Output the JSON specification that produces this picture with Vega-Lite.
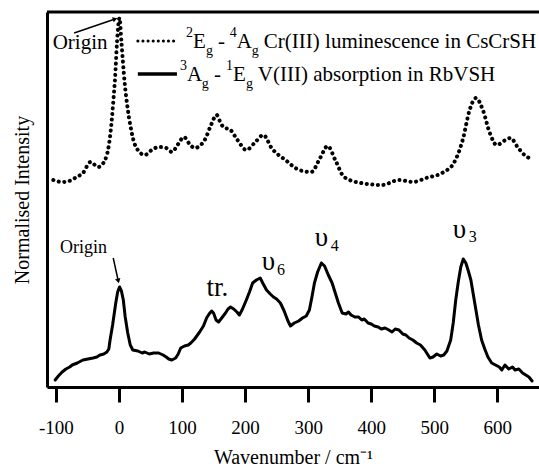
{
  "$schema": "https://vega.github.io/schema/vega-lite/v6.json",
  "width": 492,
  "height": 375,
  "autosize": {"type": "none"},
  "padding": {"left": 47, "top": 12, "right": 0, "bottom": 81},
  "background": "white",
  "config": {
    "view": {"stroke": null},
    "font": "Liberation Serif",
    "text": {"font": "Liberation Serif", "color": "black"}
  },
  "datasets": {
    "spectra": [
      {"wn": -104, "intensity": 207, "series": "lum"},
      {"wn": -90, "intensity": 205, "series": "lum"},
      {"wn": -79, "intensity": 206, "series": "lum"},
      {"wn": -67, "intensity": 210, "series": "lum"},
      {"wn": -57, "intensity": 214, "series": "lum"},
      {"wn": -45, "intensity": 225, "series": "lum"},
      {"wn": -33, "intensity": 220, "series": "lum"},
      {"wn": -22, "intensity": 227, "series": "lum"},
      {"wn": -17, "intensity": 238, "series": "lum"},
      {"wn": -13, "intensity": 256, "series": "lum"},
      {"wn": -9, "intensity": 285, "series": "lum"},
      {"wn": -6, "intensity": 310, "series": "lum"},
      {"wn": -3, "intensity": 345, "series": "lum"},
      {"wn": 1, "intensity": 369, "series": "lum"},
      {"wn": 4, "intensity": 345, "series": "lum"},
      {"wn": 9, "intensity": 305, "series": "lum"},
      {"wn": 14, "intensity": 278, "series": "lum"},
      {"wn": 18, "intensity": 262, "series": "lum"},
      {"wn": 27, "intensity": 240, "series": "lum"},
      {"wn": 41, "intensity": 232, "series": "lum"},
      {"wn": 52, "intensity": 237, "series": "lum"},
      {"wn": 63, "intensity": 240, "series": "lum"},
      {"wn": 75, "intensity": 239, "series": "lum"},
      {"wn": 84, "intensity": 235, "series": "lum"},
      {"wn": 94, "intensity": 243, "series": "lum"},
      {"wn": 103, "intensity": 250, "series": "lum"},
      {"wn": 112, "intensity": 243, "series": "lum"},
      {"wn": 120, "intensity": 239, "series": "lum"},
      {"wn": 136, "intensity": 247, "series": "lum"},
      {"wn": 146, "intensity": 262, "series": "lum"},
      {"wn": 155, "intensity": 272, "series": "lum"},
      {"wn": 162, "intensity": 263, "series": "lum"},
      {"wn": 168, "intensity": 259, "series": "lum"},
      {"wn": 175, "intensity": 258, "series": "lum"},
      {"wn": 188, "intensity": 247, "series": "lum"},
      {"wn": 202, "intensity": 237, "series": "lum"},
      {"wn": 215, "intensity": 244, "series": "lum"},
      {"wn": 229, "intensity": 252, "series": "lum"},
      {"wn": 242, "intensity": 239, "series": "lum"},
      {"wn": 264, "intensity": 227, "series": "lum"},
      {"wn": 286, "intensity": 217, "series": "lum"},
      {"wn": 305, "intensity": 215, "series": "lum"},
      {"wn": 319, "intensity": 229, "series": "lum"},
      {"wn": 331, "intensity": 241, "series": "lum"},
      {"wn": 343, "intensity": 227, "series": "lum"},
      {"wn": 357, "intensity": 210, "series": "lum"},
      {"wn": 384, "intensity": 204, "series": "lum"},
      {"wn": 417, "intensity": 202, "series": "lum"},
      {"wn": 444, "intensity": 207, "series": "lum"},
      {"wn": 466, "intensity": 205, "series": "lum"},
      {"wn": 487, "intensity": 209, "series": "lum"},
      {"wn": 515, "intensity": 215, "series": "lum"},
      {"wn": 531, "intensity": 224, "series": "lum"},
      {"wn": 545, "intensity": 247, "series": "lum"},
      {"wn": 556, "intensity": 277, "series": "lum"},
      {"wn": 566, "intensity": 289, "series": "lum"},
      {"wn": 577, "intensity": 277, "series": "lum"},
      {"wn": 588, "intensity": 254, "series": "lum"},
      {"wn": 599, "intensity": 242, "series": "lum"},
      {"wn": 613, "intensity": 247, "series": "lum"},
      {"wn": 621, "intensity": 249, "series": "lum"},
      {"wn": 632, "intensity": 240, "series": "lum"},
      {"wn": 643, "intensity": 232, "series": "lum"},
      {"wn": 654, "intensity": 228, "series": "lum"},

      {"wn": -101, "intensity": 7, "series": "abs"},
      {"wn": -96, "intensity": 11, "series": "abs"},
      {"wn": -90, "intensity": 15, "series": "abs"},
      {"wn": -84, "intensity": 18, "series": "abs"},
      {"wn": -78, "intensity": 20, "series": "abs"},
      {"wn": -74, "intensity": 22, "series": "abs"},
      {"wn": -66, "intensity": 24, "series": "abs"},
      {"wn": -57, "intensity": 27, "series": "abs"},
      {"wn": -49, "intensity": 28, "series": "abs"},
      {"wn": -41, "intensity": 29, "series": "abs"},
      {"wn": -35, "intensity": 30, "series": "abs"},
      {"wn": -30, "intensity": 32, "series": "abs"},
      {"wn": -24, "intensity": 33, "series": "abs"},
      {"wn": -19, "intensity": 35, "series": "abs"},
      {"wn": -16, "intensity": 38, "series": "abs"},
      {"wn": -14, "intensity": 47, "series": "abs"},
      {"wn": -10, "intensity": 62, "series": "abs"},
      {"wn": -5, "intensity": 84, "series": "abs"},
      {"wn": -2, "intensity": 95, "series": "abs"},
      {"wn": 1, "intensity": 100, "series": "abs"},
      {"wn": 4, "intensity": 96, "series": "abs"},
      {"wn": 7, "intensity": 87, "series": "abs"},
      {"wn": 10, "intensity": 70, "series": "abs"},
      {"wn": 14, "intensity": 54, "series": "abs"},
      {"wn": 18, "intensity": 42, "series": "abs"},
      {"wn": 22, "intensity": 37, "series": "abs"},
      {"wn": 30, "intensity": 36, "series": "abs"},
      {"wn": 37, "intensity": 34, "series": "abs"},
      {"wn": 41, "intensity": 35, "series": "abs"},
      {"wn": 48, "intensity": 33, "series": "abs"},
      {"wn": 55, "intensity": 34, "series": "abs"},
      {"wn": 63, "intensity": 34, "series": "abs"},
      {"wn": 70, "intensity": 32, "series": "abs"},
      {"wn": 75, "intensity": 30, "series": "abs"},
      {"wn": 79, "intensity": 28, "series": "abs"},
      {"wn": 84, "intensity": 27, "series": "abs"},
      {"wn": 90, "intensity": 29, "series": "abs"},
      {"wn": 94, "intensity": 33, "series": "abs"},
      {"wn": 98, "intensity": 39, "series": "abs"},
      {"wn": 104, "intensity": 41, "series": "abs"},
      {"wn": 110, "intensity": 42, "series": "abs"},
      {"wn": 114, "intensity": 44, "series": "abs"},
      {"wn": 120, "intensity": 48, "series": "abs"},
      {"wn": 128, "intensity": 55, "series": "abs"},
      {"wn": 134, "intensity": 61, "series": "abs"},
      {"wn": 139, "intensity": 69, "series": "abs"},
      {"wn": 143, "intensity": 73, "series": "abs"},
      {"wn": 147, "intensity": 76, "series": "abs"},
      {"wn": 150, "intensity": 74, "series": "abs"},
      {"wn": 154, "intensity": 67, "series": "abs"},
      {"wn": 158, "intensity": 65, "series": "abs"},
      {"wn": 163, "intensity": 69, "series": "abs"},
      {"wn": 169, "intensity": 74, "series": "abs"},
      {"wn": 173, "intensity": 78, "series": "abs"},
      {"wn": 177, "intensity": 80, "series": "abs"},
      {"wn": 182, "intensity": 78, "series": "abs"},
      {"wn": 187, "intensity": 75, "series": "abs"},
      {"wn": 191, "intensity": 72, "series": "abs"},
      {"wn": 196, "intensity": 78, "series": "abs"},
      {"wn": 202, "intensity": 87, "series": "abs"},
      {"wn": 207, "intensity": 95, "series": "abs"},
      {"wn": 212, "intensity": 104, "series": "abs"},
      {"wn": 218, "intensity": 107, "series": "abs"},
      {"wn": 224, "intensity": 109, "series": "abs"},
      {"wn": 228, "intensity": 104, "series": "abs"},
      {"wn": 234, "intensity": 97, "series": "abs"},
      {"wn": 240, "intensity": 93, "series": "abs"},
      {"wn": 245, "intensity": 90, "series": "abs"},
      {"wn": 250, "intensity": 88, "series": "abs"},
      {"wn": 256, "intensity": 84, "series": "abs"},
      {"wn": 262, "intensity": 76, "series": "abs"},
      {"wn": 268, "intensity": 66, "series": "abs"},
      {"wn": 272, "intensity": 61, "series": "abs"},
      {"wn": 278, "intensity": 64, "series": "abs"},
      {"wn": 285, "intensity": 66, "series": "abs"},
      {"wn": 291, "intensity": 69, "series": "abs"},
      {"wn": 297, "intensity": 71, "series": "abs"},
      {"wn": 302, "intensity": 77, "series": "abs"},
      {"wn": 306, "intensity": 90, "series": "abs"},
      {"wn": 310, "intensity": 104, "series": "abs"},
      {"wn": 315, "intensity": 115, "series": "abs"},
      {"wn": 321, "intensity": 124, "series": "abs"},
      {"wn": 326, "intensity": 121, "series": "abs"},
      {"wn": 332, "intensity": 112, "series": "abs"},
      {"wn": 338, "intensity": 104, "series": "abs"},
      {"wn": 343, "intensity": 94, "series": "abs"},
      {"wn": 348, "intensity": 84, "series": "abs"},
      {"wn": 354, "intensity": 74, "series": "abs"},
      {"wn": 360, "intensity": 73, "series": "abs"},
      {"wn": 364, "intensity": 75, "series": "abs"},
      {"wn": 368, "intensity": 72, "series": "abs"},
      {"wn": 374, "intensity": 70, "series": "abs"},
      {"wn": 380, "intensity": 70, "series": "abs"},
      {"wn": 385, "intensity": 67, "series": "abs"},
      {"wn": 389, "intensity": 68, "series": "abs"},
      {"wn": 395, "intensity": 64, "series": "abs"},
      {"wn": 400, "intensity": 63, "series": "abs"},
      {"wn": 405, "intensity": 61, "series": "abs"},
      {"wn": 411, "intensity": 60, "series": "abs"},
      {"wn": 416, "intensity": 58, "series": "abs"},
      {"wn": 422, "intensity": 59, "series": "abs"},
      {"wn": 428, "intensity": 57, "series": "abs"},
      {"wn": 433, "intensity": 55, "series": "abs"},
      {"wn": 438, "intensity": 58, "series": "abs"},
      {"wn": 444, "intensity": 57, "series": "abs"},
      {"wn": 450, "intensity": 53, "series": "abs"},
      {"wn": 455, "intensity": 52, "series": "abs"},
      {"wn": 460, "intensity": 49, "series": "abs"},
      {"wn": 466, "intensity": 47, "series": "abs"},
      {"wn": 472, "intensity": 44, "series": "abs"},
      {"wn": 478, "intensity": 42, "series": "abs"},
      {"wn": 485, "intensity": 37, "series": "abs"},
      {"wn": 489, "intensity": 33, "series": "abs"},
      {"wn": 493, "intensity": 29, "series": "abs"},
      {"wn": 498, "intensity": 30, "series": "abs"},
      {"wn": 504, "intensity": 33, "series": "abs"},
      {"wn": 510, "intensity": 31, "series": "abs"},
      {"wn": 515, "intensity": 32, "series": "abs"},
      {"wn": 520, "intensity": 36, "series": "abs"},
      {"wn": 526, "intensity": 47, "series": "abs"},
      {"wn": 530, "intensity": 64, "series": "abs"},
      {"wn": 534, "intensity": 87, "series": "abs"},
      {"wn": 538, "intensity": 105, "series": "abs"},
      {"wn": 542, "intensity": 120, "series": "abs"},
      {"wn": 546, "intensity": 128, "series": "abs"},
      {"wn": 550, "intensity": 124, "series": "abs"},
      {"wn": 554, "intensity": 116, "series": "abs"},
      {"wn": 558, "intensity": 107, "series": "abs"},
      {"wn": 562, "intensity": 92, "series": "abs"},
      {"wn": 566, "intensity": 77, "series": "abs"},
      {"wn": 570, "intensity": 62, "series": "abs"},
      {"wn": 575, "intensity": 47, "series": "abs"},
      {"wn": 580, "intensity": 38, "series": "abs"},
      {"wn": 585, "intensity": 30, "series": "abs"},
      {"wn": 591, "intensity": 24, "series": "abs"},
      {"wn": 597, "intensity": 22, "series": "abs"},
      {"wn": 603, "intensity": 20, "series": "abs"},
      {"wn": 607, "intensity": 17, "series": "abs"},
      {"wn": 612, "intensity": 22, "series": "abs"},
      {"wn": 618, "intensity": 18, "series": "abs"},
      {"wn": 624, "intensity": 20, "series": "abs"},
      {"wn": 628, "intensity": 17, "series": "abs"},
      {"wn": 634, "intensity": 18, "series": "abs"},
      {"wn": 640, "intensity": 14, "series": "abs"},
      {"wn": 645, "intensity": 12, "series": "abs"},
      {"wn": 650, "intensity": 10, "series": "abs"},
      {"wn": 655, "intensity": 6, "series": "abs"}
    ],
    "legendSamples": [
      {"wn": 30, "intensity": 346, "series": "lum"},
      {"wn": 89, "intensity": 346, "series": "lum"},
      {"wn": 30, "intensity": 313, "series": "abs"},
      {"wn": 92, "intensity": 313, "series": "abs"}
    ],
    "mainText": [
      {"wn": -105, "intensity": 344, "label": "Origin"},
      {"wn": 117.3, "intensity": 345, "label": "E"},
      {"wn": 156.9, "intensity": 345, "label": "-"},
      {"wn": 187, "intensity": 345, "label": "A"},
      {"wn": 229.8, "intensity": 345, "label": "Cr(III) luminescence in CsCrSH"},
      {"wn": 107.8, "intensity": 312, "label": "A"},
      {"wn": 150.6, "intensity": 312, "label": "-"},
      {"wn": 180.7, "intensity": 312, "label": "E"},
      {"wn": 220.3, "intensity": 312, "label": "V(III) absorption in RbVSH"}
    ],
    "smallText": [
      {"wn": 106.2, "intensity": 354, "label": "2"},
      {"wn": 137.9, "intensity": 336, "label": "g"},
      {"wn": 175.9, "intensity": 354, "label": "4"},
      {"wn": 210.8, "intensity": 336, "label": "g"},
      {"wn": 96.7, "intensity": 321, "label": "3"},
      {"wn": 131.5, "intensity": 303, "label": "g"},
      {"wn": 169.6, "intensity": 321, "label": "1"},
      {"wn": 201.3, "intensity": 303, "label": "g"}
    ],
    "peakLabels": [
      {"wn": 156, "intensity": 99, "label": "tr."},
      {"wn": 237, "intensity": 125, "label": "υ"},
      {"wn": 321, "intensity": 149, "label": "υ"},
      {"wn": 540, "intensity": 157, "label": "υ"}
    ],
    "peakSubs": [
      {"wn": 257, "intensity": 117, "label": "6"},
      {"wn": 342, "intensity": 141, "label": "4"},
      {"wn": 561, "intensity": 150, "label": "3"}
    ],
    "arrows": [
      {"wn": -71, "intensity": 354, "arrow": "top"},
      {"wn": -6, "intensity": 368, "arrow": "top"},
      {"wn": -9, "intensity": 129, "arrow": "low"},
      {"wn": -1, "intensity": 106, "arrow": "low"}
    ],
    "heads": [
      {"wn": -6, "intensity": 368, "dir": 72},
      {"wn": -1, "intensity": 106, "dir": 166}
    ]
  },
  "layer": [
    {
      "data": {"name": "spectra"},
      "transform": [{"filter": "datum.series === 'abs'"}],
      "mark": {"type": "line", "color": "black", "strokeWidth": 3, "strokeJoin": "round", "strokeCap": "round"},
      "encoding": {
        "x": {
          "field": "wn", "type": "quantitative",
          "scale": {"domain": [-114, 666], "nice": false, "zero": false},
          "axis": {
            "title": "Wavenumber / cm⁻¹",
            "values": [-100, 0, 100, 200, 300, 400, 500, 600],
            "labelExpr": "datum.value < 0 ? '-' + abs(datum.value) : '' + datum.value",
            "grid": false,
            "domainColor": "black", "domainWidth": 3,
            "tickColor": "black", "tickWidth": 3, "tickSize": 15,
            "labelFont": "Liberation Serif", "labelFontSize": 19, "labelColor": "black", "labelPadding": 16,
            "labelFlush": false,
            "titleFont": "Liberation Serif", "titleFontSize": 20, "titleFontWeight": "normal", "titleColor": "black", "titlePadding": 10
          }
        },
        "y": {
          "field": "intensity", "type": "quantitative",
          "scale": {"domain": [0, 375], "nice": false, "zero": false},
          "axis": {
            "title": "Normalised Intensity",
            "labels": false, "ticks": false, "grid": false,
            "domainColor": "black", "domainWidth": 3,
            "titleFont": "Liberation Serif", "titleFontSize": 20, "titleFontWeight": "normal", "titleColor": "black", "titlePadding": 15
          }
        }
      }
    },
    {
      "data": {"name": "spectra"},
      "transform": [{"filter": "datum.series === 'lum'"}],
      "mark": {"type": "line", "color": "black", "strokeWidth": 4, "strokeDash": [0.1, 5.5], "strokeCap": "round", "interpolate": "monotone"},
      "encoding": {
        "x": {"field": "wn", "type": "quantitative"},
        "y": {"field": "intensity", "type": "quantitative"}
      }
    },
    {
      "data": {"name": "legendSamples"},
      "transform": [{"filter": "datum.series === 'lum'"}],
      "mark": {"type": "line", "color": "black", "strokeWidth": 3, "strokeDash": [0.1, 5], "strokeCap": "round"},
      "encoding": {
        "x": {"field": "wn", "type": "quantitative"},
        "y": {"field": "intensity", "type": "quantitative"}
      }
    },
    {
      "data": {"name": "legendSamples"},
      "transform": [{"filter": "datum.series === 'abs'"}],
      "mark": {"type": "line", "color": "black", "strokeWidth": 3.5},
      "encoding": {
        "x": {"field": "wn", "type": "quantitative"},
        "y": {"field": "intensity", "type": "quantitative"}
      }
    },
    {
      "data": {"values": [{"edge": "top"}]},
      "mark": {"type": "rule", "color": "black", "strokeWidth": 3},
      "encoding": {"y": {"datum": 375}, "x": {"datum": -114}, "x2": {"datum": 666}}
    },
    {
      "data": {"name": "mainText"},
      "mark": {"type": "text", "fontSize": 21, "align": "left", "baseline": "middle", "font": "Liberation Serif"},
      "encoding": {
        "x": {"field": "wn", "type": "quantitative"},
        "y": {"field": "intensity", "type": "quantitative"},
        "text": {"field": "label"}
      }
    },
    {
      "data": {"name": "smallText"},
      "mark": {"type": "text", "fontSize": 14, "align": "left", "baseline": "middle", "font": "Liberation Serif"},
      "encoding": {
        "x": {"field": "wn", "type": "quantitative"},
        "y": {"field": "intensity", "type": "quantitative"},
        "text": {"field": "label"}
      }
    },
    {
      "data": {"name": "peakLabels"},
      "mark": {"type": "text", "fontSize": 27, "align": "center", "baseline": "middle", "font": "Liberation Serif"},
      "encoding": {
        "x": {"field": "wn", "type": "quantitative"},
        "y": {"field": "intensity", "type": "quantitative"},
        "text": {"field": "label"}
      }
    },
    {
      "data": {"name": "peakSubs"},
      "mark": {"type": "text", "fontSize": 16, "align": "center", "baseline": "middle", "font": "Liberation Serif"},
      "encoding": {
        "x": {"field": "wn", "type": "quantitative"},
        "y": {"field": "intensity", "type": "quantitative"},
        "text": {"field": "label"}
      }
    },
    {
      "data": {"values": [{"wn": -56, "intensity": 139, "label": "Origin"}]},
      "mark": {"type": "text", "fontSize": 18, "align": "center", "baseline": "middle", "font": "Liberation Serif"},
      "encoding": {
        "x": {"field": "wn", "type": "quantitative"},
        "y": {"field": "intensity", "type": "quantitative"},
        "text": {"field": "label"}
      }
    },
    {
      "data": {"name": "arrows"},
      "mark": {"type": "line", "color": "black", "strokeWidth": 1.5},
      "encoding": {
        "x": {"field": "wn", "type": "quantitative"},
        "y": {"field": "intensity", "type": "quantitative"},
        "detail": {"field": "arrow"}
      }
    },
    {
      "data": {"name": "heads"},
      "mark": {"type": "point", "shape": "triangle-up", "filled": true, "color": "black", "size": 30, "opacity": 1},
      "encoding": {
        "x": {"field": "wn", "type": "quantitative"},
        "y": {"field": "intensity", "type": "quantitative"},
        "angle": {"field": "dir", "type": "quantitative", "scale": {"domain": [0, 360], "range": [0, 360]}}
      }
    }
  ]
}
